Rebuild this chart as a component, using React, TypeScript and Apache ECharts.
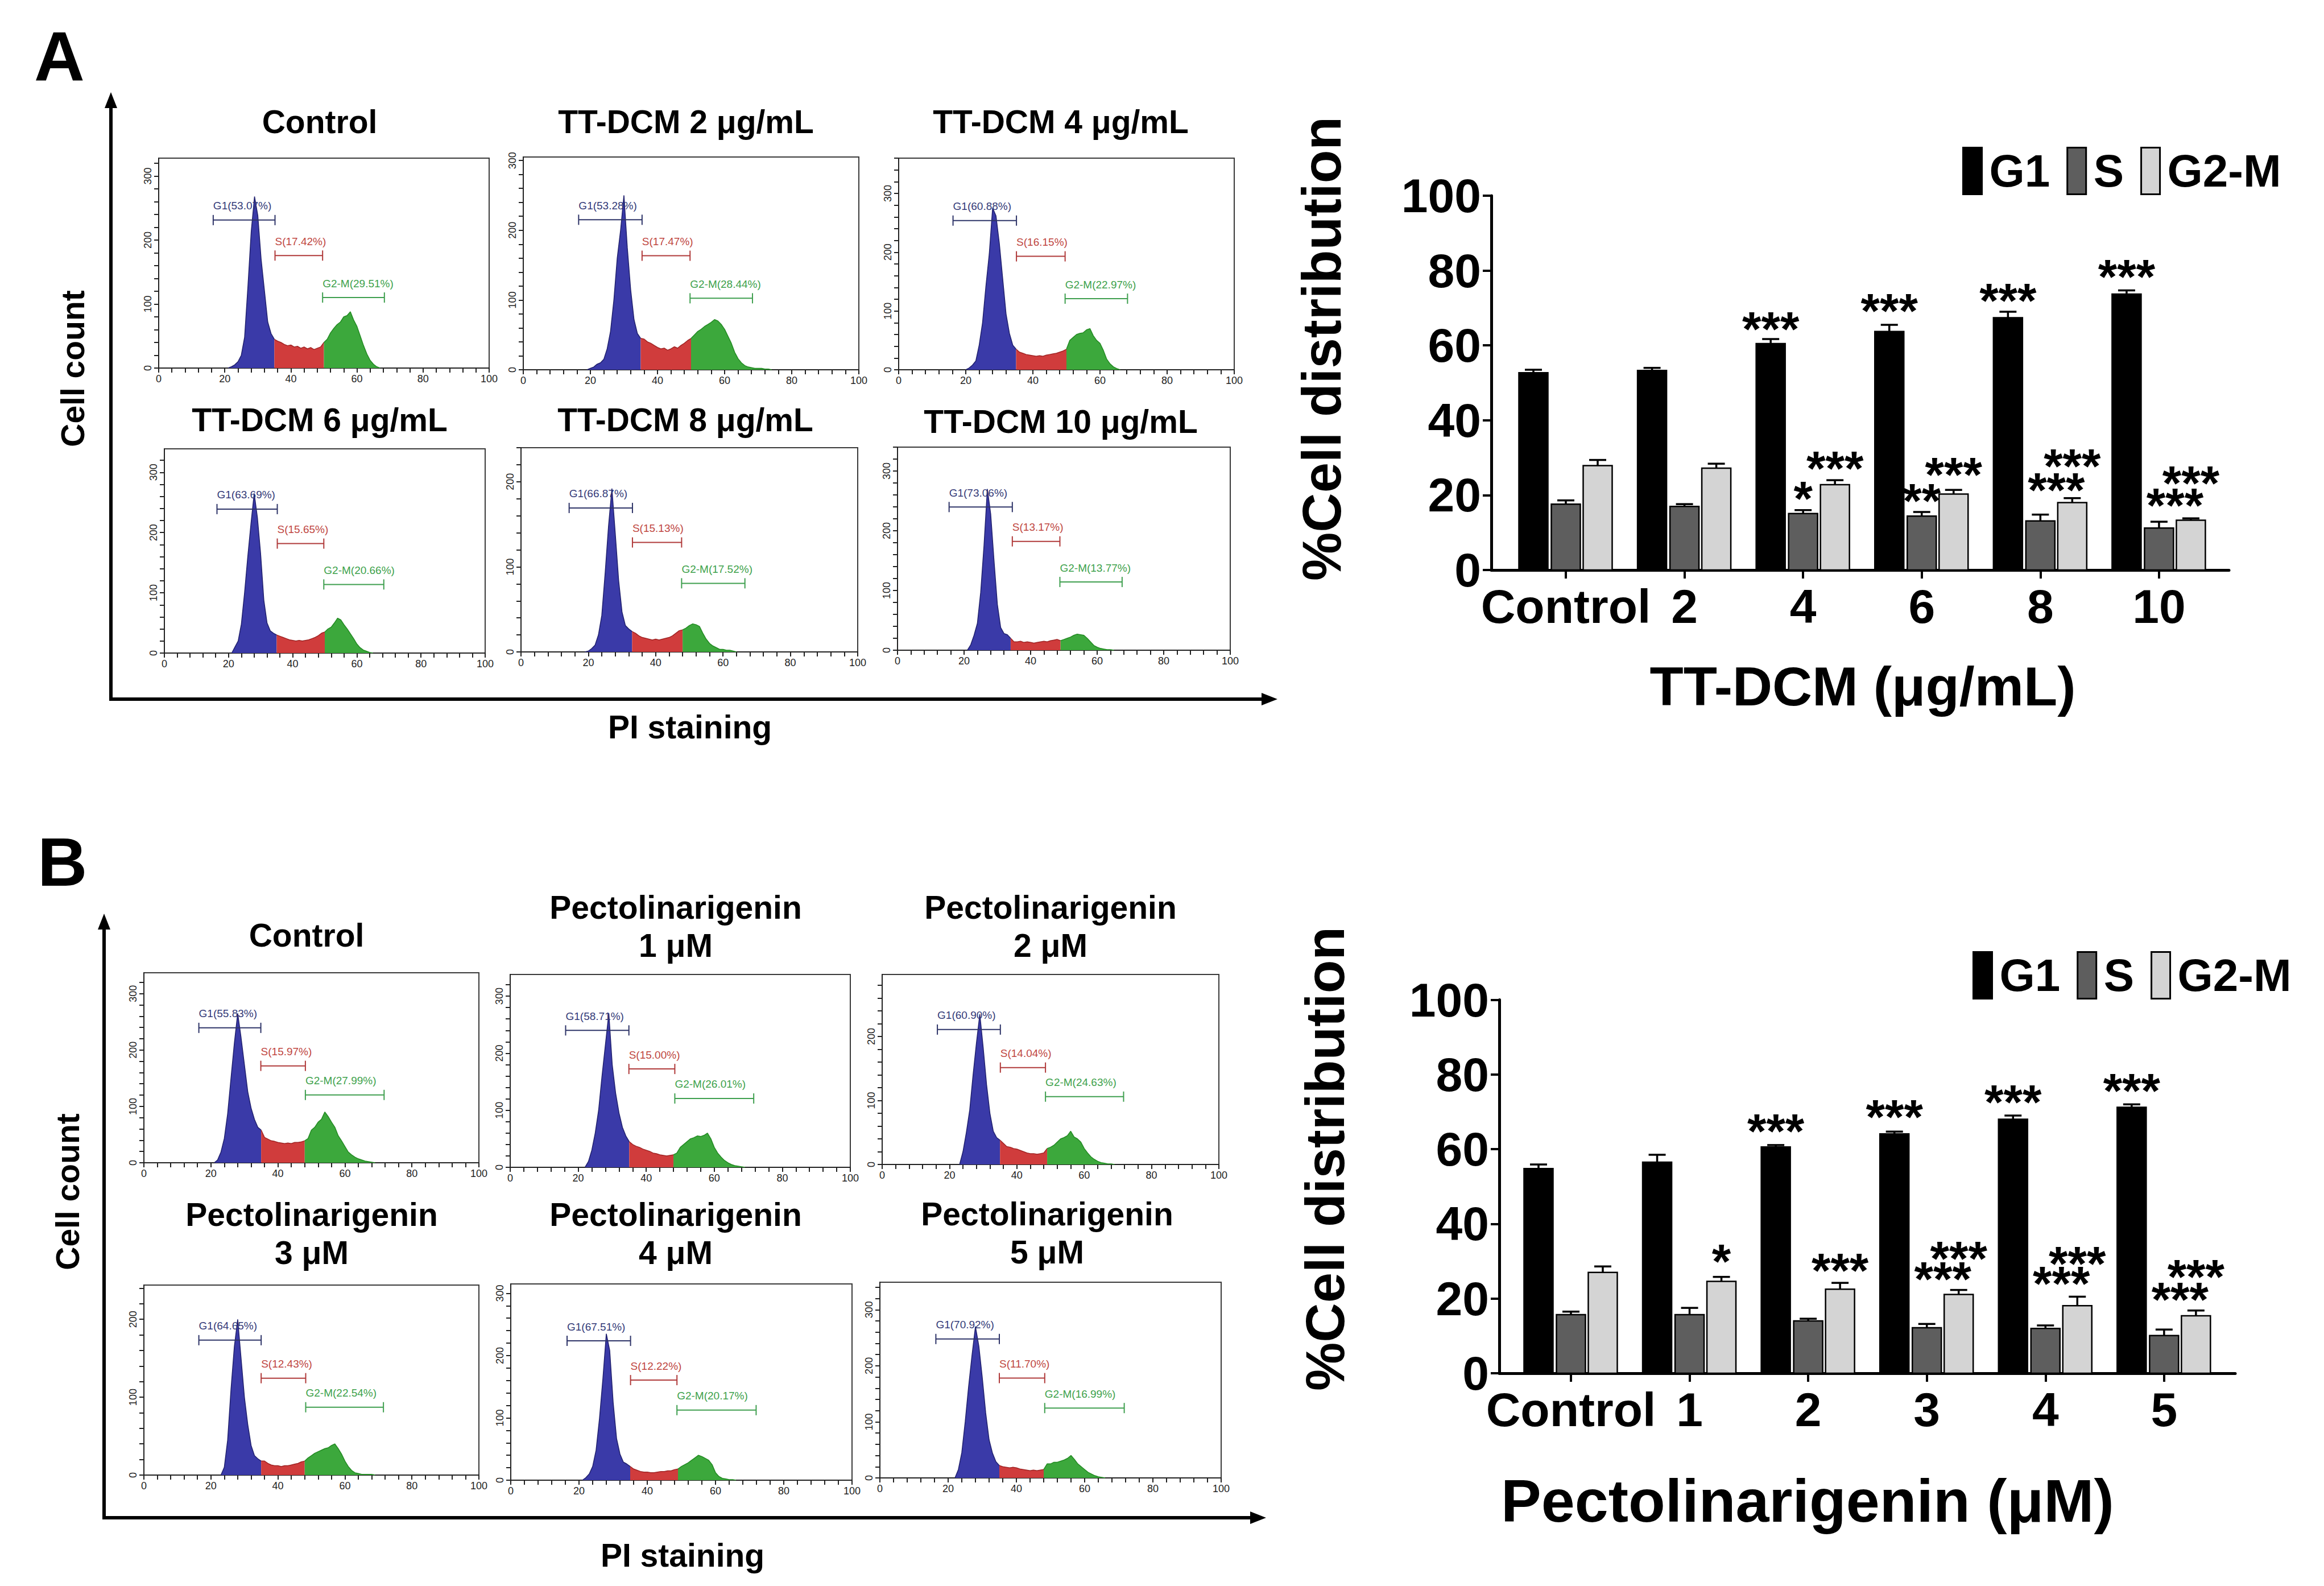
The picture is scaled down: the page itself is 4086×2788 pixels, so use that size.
import React, { useEffect, useRef } from "react";
import * as echarts from "echarts";

const FONT = "'Liberation Sans', Arial, Helvetica, sans-serif";

// ---------------- Flow-cytometry histogram panels ----------------
const histTitles = [
  "Control", "TT-DCM 2 μg/mL", "TT-DCM 4 μg/mL",
  "TT-DCM 6 μg/mL", "TT-DCM 8 μg/mL", "TT-DCM 10 μg/mL",
  "Control", "Pectolinarigenin\n1 μM", "Pectolinarigenin\n2 μM",
  "Pectolinarigenin\n3 μM", "Pectolinarigenin\n4 μM", "Pectolinarigenin\n5 μM",
];
const histYMax = [328, 305, 360, 339, 240, 340, 337, 338, 297, 244, 315, 349];
const histStart = [21, 19, 20, 21, 19, 21, 21, 22, 23, 23, 21, 22];
const histSStart = [35, 35, 35, 35, 33, 34, 35, 35, 35, 35, 35, 35];
const histG2Start = [50, 50, 50, 50, 48, 49, 48, 48, 49, 48, 49, 48];

const countsCtrlA = [0, 2, 5, 10, 20, 48, 127, 213, 268, 238, 170, 121, 72, 54, 45, 42, 40, 37, 35, 36, 33, 34, 31, 33, 30, 32, 29, 31, 33, 40, 45, 55, 62, 68, 72, 80, 82, 88, 75, 65, 50, 35, 22, 12, 6, 2, 0];
const countsTT2 = [0, 2, 4, 8, 10, 15, 30, 55, 100, 160, 200, 250, 175, 115, 72, 52, 45, 44, 40, 38, 35, 32, 30, 31, 28, 30, 33, 31, 35, 38, 42, 45, 50, 55, 58, 62, 65, 68, 72, 70, 65, 58, 48, 38, 25, 16, 10, 6, 4, 3, 2, 2, 2, 1, 1, 0];
const countsTT4 = [0, 3, 8, 15, 42, 80, 142, 197, 275, 262, 215, 155, 95, 62, 42, 35, 30, 28, 26, 25, 24, 23, 24, 23, 25, 26, 27, 28, 30, 32, 35, 50, 55, 60, 62, 63, 68, 70, 58, 50, 45, 33, 18, 10, 5, 2, 0];
const countsTT6 = [0, 10, 20, 48, 100, 160, 215, 265, 225, 165, 88, 50, 37, 33, 30, 28, 26, 24, 22, 21, 20, 21, 20, 21, 22, 24, 26, 29, 33, 35, 40, 43, 50, 58, 55, 47, 40, 32, 24, 15, 9, 5, 3, 1, 0];
const countsTT8 = [0, 1, 4, 8, 20, 43, 93, 148, 192, 139, 84, 47, 31, 27, 24, 22, 19, 17, 16, 15, 14, 15, 14, 15, 16, 17, 19, 22, 25, 26, 28, 31, 33, 32, 30, 22, 15, 10, 7, 5, 3, 3, 2, 2, 1, 0];
const countsTT10 = [0, 9, 25, 45, 97, 176, 270, 228, 150, 77, 38, 28, 26, 20, 14, 14, 15, 13, 14, 13, 12, 13, 14, 15, 14, 16, 17, 18, 16, 18, 20, 22, 25, 27, 26, 25, 20, 14, 8, 5, 3, 2, 1, 1, 0];
const countsCtrlB = [0, 5, 19, 43, 87, 150, 212, 265, 222, 174, 126, 97, 77, 63, 58, 45, 42, 39, 38, 36, 35, 34, 35, 34, 36, 36, 37, 39, 43, 58, 63, 72, 77, 90, 82, 72, 63, 48, 39, 29, 19, 14, 10, 7, 5, 3, 2, 1, 0];
const countsP1 = [0, 10, 30, 60, 100, 160, 215, 270, 180, 130, 95, 70, 55, 45, 40, 37, 35, 32, 30, 28, 25, 24, 22, 21, 20, 21, 22, 25, 35, 40, 45, 50, 52, 55, 54, 56, 60, 50, 35, 25, 18, 12, 8, 5, 3, 2, 1, 0];
const countsP2 = [0, 20, 50, 85, 140, 190, 235, 183, 125, 80, 52, 42, 38, 33, 28, 27, 25, 24, 22, 20, 18, 17, 17, 16, 17, 18, 25, 27, 30, 35, 40, 42, 45, 52, 43, 40, 35, 25, 18, 12, 8, 5, 3, 2, 1, 1, 0];
const countsP3 = [0, 10, 45, 110, 165, 200, 150, 100, 65, 38, 25, 21, 18, 18, 15, 13, 12, 12, 11, 12, 12, 13, 14, 15, 17, 18, 22, 25, 28, 30, 32, 34, 35, 38, 40, 34, 27, 18, 11, 6, 3, 2, 1, 1, 1, 1, 0];
const countsP4 = [0, 4, 10, 22, 48, 99, 163, 235, 208, 125, 67, 42, 29, 26, 22, 18, 16, 14, 13, 13, 12, 12, 13, 14, 14, 15, 15, 17, 18, 22, 25, 28, 32, 36, 40, 38, 35, 32, 25, 12, 6, 3, 2, 1, 1, 0];
const countsP5 = [0, 15, 45, 100, 163, 219, 270, 235, 179, 116, 68, 44, 29, 22, 20, 19, 18, 19, 18, 16, 15, 14, 13, 14, 13, 14, 15, 25, 25, 28, 28, 30, 32, 35, 40, 33, 25, 20, 15, 10, 7, 4, 2, 1, 0];
const histCounts = [countsCtrlA, countsTT2, countsTT4, countsTT6, countsTT8, countsTT10, countsCtrlB, countsP1, countsP2, countsP3, countsP4, countsP5];

// gate markers (x ranges on the 0-100 channel axis)
const gatesG1 = [[16.5, 35.2], [16.5, 35.4], [16.2, 35.1], [16.4, 35.2], [14.3, 33.1], [15.5, 34.5], [16.4, 34.9], [16.3, 34.9], [16.4, 35.1], [16.4, 35.0], [16.5, 35.1], [16.4, 35.0]];
const gatesS = [[35.2, 49.6], [35.4, 49.7], [35.1, 49.6], [35.2, 49.7], [33.1, 47.7], [34.5, 48.8], [34.9, 48.2], [34.9, 48.4], [35.1, 48.5], [35.0, 48.3], [35.1, 48.7], [35.0, 48.3]];
const gatesG2 = [[49.6, 68.3], [49.7, 68.3], [49.6, 68.2], [49.7, 68.4], [47.7, 66.5], [48.8, 67.5], [48.2, 71.7], [48.4, 71.6], [48.5, 71.7], [48.3, 71.5], [48.7, 71.9], [48.3, 71.6]];
const pctG1 = ["53.07", "53.28", "60.88", "63.69", "66.87", "73.06", "55.83", "58.71", "60.90", "64.65", "67.51", "70.92"];
const pctS = ["17.42", "17.47", "16.15", "15.65", "15.13", "13.17", "15.97", "15.00", "14.04", "12.43", "12.22", "11.70"];
const pctG2 = ["29.51", "28.44", "22.97", "20.66", "17.52", "13.77", "27.99", "26.01", "24.63", "22.54", "20.17", "16.99"];

const histXLabels = [0, 20, 40, 60, 80, 100];
const histYLabels = [0, 100, 200, 300];

// ---------------- Bar charts ----------------
const catsA = ["Control", "2", "4", "6", "8", "10"];
const aG1 = [52.7, 53.3, 60.5, 63.7, 67.4, 73.7];
const aG1Err = [0.8, 0.7, 1.2, 1.8, 1.6, 1.0];
const aS = [17.6, 17.0, 15.1, 14.4, 13.1, 11.2];
const aSErr = [1.0, 0.6, 0.9, 1.1, 1.7, 1.7];
const aG2 = [27.9, 27.2, 22.8, 20.3, 18.0, 13.3];
const aG2Err = [1.5, 1.2, 1.2, 1.1, 1.2, 0.5];
const aG1Stars = ["", "", "***", "***", "***", "***"];
const aSStars = ["", "", "*", "**", "***", "***"];
const aG2Stars = ["", "", "***", "***", "***", "***"];
const aG1StarY = [0, 0, 63.1, 68.0, 70.7, 77.1];
const aSStarY = [0, 0, 17.8, 17.2, 20.1, 16.0];
const aG2StarY = [0, 0, 25.9, 24.2, 26.5, 21.9];

const catsB = ["Control", "1", "2", "3", "4", "5"];
const bG1 = [54.8, 56.5, 60.6, 64.1, 68.0, 71.2];
const bG1Err = [1.1, 2.0, 0.5, 0.6, 1.0, 0.8];
const bS = [15.7, 15.7, 14.0, 12.2, 12.0, 10.1];
const bSErr = [0.8, 1.8, 0.6, 1.0, 0.8, 1.6];
const bG2 = [27.0, 24.6, 22.5, 21.1, 18.1, 15.4];
const bG2Err = [1.6, 1.2, 1.7, 1.2, 2.4, 1.4];
const bG1Stars = ["", "", "***", "***", "***", "***"];
const bSStars = ["", "", "", "***", "***", "***"];
const bG2Stars = ["", "*", "***", "***", "***", "***"];
const bG1StarY = [0, 0, 63.5, 67.4, 71.3, 74.4];
const bSStarY = [0, 0, 0, 23.9, 22.7, 18.4];
const bG2StarY = [0, 28.6, 26.2, 29.4, 28.0, 24.5];

const barYTicks = [0, 20, 40, 60, 80, 100];

// ---------------- layout ----------------
const histRects = [
  [279, 278, 581, 369], [920, 276, 590, 374], [1580, 278, 590, 372],
  [289, 789, 564, 359], [916, 787, 592, 359], [1578, 786, 585, 357],
  [253, 1710, 589, 334], [897, 1713, 598, 339], [1551, 1713, 592, 334],
  [253, 2259, 589, 334], [898, 2257, 600, 345], [1547, 2254, 600, 344],
];
const titlePos = [
  [562, 214], [1206, 214], [1865, 214], [562, 738], [1205, 738], [1865, 741],
  [539, 1644], [1188, 1628], [1847, 1628], [548, 2168], [1188, 2168], [1841, 2167],
];
const gateFracA = [0.295, 0.464, 0.664];
const gateFracB = [0.29, 0.49, 0.643];

const histFill = ["#3a3aa8", "#d03c3c", "#3ca83c"];
const histEdge = ["#20206e", "#a02424", "#228a22"];
const gateLine = ["#2e3468", "#b03a3a", "#3f9f4f"];
const gateText = ["#333a78", "#c0463f", "#3ea24c"];
const gateNames = ["G1", "S", "G2-M"];

const barFill = ["#000000", "#5e5e5e", "#d4d4d4"];

function buildOption() {
  const grid: any[] = [];
  const xAxis: any[] = [];
  const yAxis: any[] = [];
  const series: any[] = [];
  const axisCol = "#222";

  const xTickVals: number[] = [];
  for (let v = 0; v <= 100; v += 4) xTickVals.push(v);

  histRects.forEach((r, i) => {
    const ymax = histYMax[i];
    const yTickVals: number[] = [];
    for (let v = 0; v <= ymax; v += 20) yTickVals.push(v);
    grid.push({ left: r[0], top: r[1], width: r[2], height: r[3], show: true, borderColor: "#3a3a3a", borderWidth: 2, backgroundColor: "#fff" });
    xAxis.push({
      gridIndex: i, type: "value", min: 0, max: 100,
      axisLine: { show: true, onZero: false, lineStyle: { color: axisCol, width: 2 } },
      axisTick: { show: true, customValues: xTickVals, length: 8, lineStyle: { color: axisCol, width: 2 } },
      axisLabel: { customValues: histXLabels, fontSize: 18, color: axisCol, margin: 10, fontFamily: FONT },
      splitLine: { show: false },
    });
    yAxis.push({
      gridIndex: i, type: "value", min: 0, max: ymax,
      axisLine: { show: true, onZero: false, lineStyle: { color: axisCol, width: 2 } },
      axisTick: { show: true, customValues: yTickVals, length: 8, lineStyle: { color: axisCol, width: 2 } },
      axisLabel: { customValues: histYLabels.filter((v) => v <= ymax), rotate: 90, fontSize: 18, color: axisCol, margin: 10, fontFamily: FONT },
      splitLine: { show: false },
    });

    const counts = histCounts[i];
    const start = histStart[i];
    const end = start + counts.length - 1;
    const ranges = [[start, histSStart[i]], [histSStart[i], histG2Start[i]], [histG2Start[i], end]];
    ranges.forEach((rg, k) => {
      const data = counts.map((c, j) => [start + j, c]).filter((p) => p[0] >= rg[0] && p[0] <= rg[1]);
      series.push({
        type: "line", name: `hist${i}-${gateNames[k]}`, xAxisIndex: i, yAxisIndex: i,
        data, symbol: "none", silent: true, z: 2,
        lineStyle: { color: histEdge[k], width: 1.5 },
        areaStyle: { color: histFill[k], opacity: 1 },
      });
    });

    const frac = i < 6 ? gateFracA : gateFracB;
    const gates = [gatesG1[i], gatesS[i], gatesG2[i]];
    const labels = [`G1(${pctG1[i]}%)`, `S(${pctS[i]}%)`, `G2-M(${pctG2[i]}%)`];
    series.push({
      type: "custom", name: `gates${i}`, xAxisIndex: i, yAxisIndex: i, clip: false, silent: true, z: 5,
      data: gates.map((g, k) => [g[0], g[1], ymax * (1 - frac[k]), k]),
      encode: { x: [0, 1], y: 2 },
      renderItem: (params: any, api: any) => {
        const k = api.value(3);
        const p1 = api.coord([api.value(0), api.value(2)]);
        const p2 = api.coord([api.value(1), api.value(2)]);
        const col = gateLine[k];
        return {
          type: "group",
          children: [
            { type: "line", shape: { x1: p1[0], y1: p1[1], x2: p2[0], y2: p1[1] }, style: { stroke: col, lineWidth: 2 } },
            { type: "line", shape: { x1: p1[0], y1: p1[1] - 9, x2: p1[0], y2: p1[1] + 9 }, style: { stroke: col, lineWidth: 2 } },
            { type: "line", shape: { x1: p2[0], y1: p1[1] - 9, x2: p2[0], y2: p1[1] + 9 }, style: { stroke: col, lineWidth: 2 } },
            { type: "text", x: p1[0], y: p1[1] - 25, style: { text: labels[k], fill: gateText[k], font: `19px ${FONT}`, align: "left", verticalAlign: "middle" } },
          ],
        };
      },
    });
  });

  // ---- bar charts ----
  const barGrids = [
    { left: 2622, top: 344, width: 1297, height: 658, min: -0.628, max: 5.59, cats: catsA },
    { left: 2636, top: 1757.5, width: 1294, height: 656.5, min: -0.604, max: 5.6, cats: catsB },
  ];
  barGrids.forEach((g, n) => {
    const gi = 12 + n;
    grid.push({ left: g.left, top: g.top, width: g.width, height: g.height, show: false });
    xAxis.push({
      gridIndex: gi, type: "value", min: g.min, max: g.max,
      axisLine: { show: true, onZero: false, lineStyle: { color: "#000", width: 5 } },
      axisTick: { show: true, customValues: [0, 1, 2, 3, 4, 5], length: 15, lineStyle: { color: "#000", width: 4 } },
      axisLabel: {
        customValues: [0, 1, 2, 3, 4, 5], formatter: (v: number) => g.cats[Math.round(v)],
        fontSize: 84, fontWeight: "bold", color: "#000", margin: 22, fontFamily: FONT,
      },
      splitLine: { show: false },
    });
    yAxis.push({
      gridIndex: gi, type: "value", min: 0, max: 100, interval: 20,
      axisLine: { show: true, onZero: false, lineStyle: { color: "#000", width: 5 } },
      axisTick: { show: true, customValues: barYTicks, length: 15, lineStyle: { color: "#000", width: 4 } },
      axisLabel: { customValues: barYTicks, fontSize: 84, fontWeight: "bold", color: "#000", margin: 18, fontFamily: FONT },
      splitLine: { show: false },
    });
  });

  const makeBars = (name: string, gi: number, vals: number[], errs: number[], stars: string[], starY: number[], off: number, fill: string, starDx: number) => ({
    type: "custom", name, xAxisIndex: gi, yAxisIndex: gi, clip: false, z: 3,
    itemStyle: { color: fill, borderColor: "#000", borderWidth: 3 },
    data: vals.map((v, j) => [j, v, errs[j]]),
    encode: { x: 0, y: 1 },
    renderItem: (params: any, api: any) => {
      const j = params.dataIndex;
      const x = api.value(0), v = api.value(1), e = api.value(2);
      const p0 = api.coord([x, 0]);
      const p1 = api.coord([x, v]);
      const p2 = api.coord([x, v + e]);
      const cx = p0[0] + off;
      const children: any[] = [
        { type: "rect", shape: { x: cx - 25.5, y: p1[1], width: 51, height: p0[1] - p1[1] }, style: { fill, stroke: "#000", lineWidth: 2.5 } },
        { type: "line", shape: { x1: cx, y1: p1[1], x2: cx, y2: p2[1] }, style: { stroke: "#000", lineWidth: 3.5 } },
        { type: "line", shape: { x1: cx - 15, y1: p2[1], x2: cx + 15, y2: p2[1] }, style: { stroke: "#000", lineWidth: 3.5 } },
      ];
      if (stars[j]) {
        const ps = api.coord([x, starY[j]]);
        children.push({
          type: "text", x: cx + (stars[j].length === 3 ? starDx : 0), y: ps[1] - 9,
          style: { text: stars[j], fill: "#000", font: `bold 86px ${FONT}`, align: "center", verticalAlign: "middle" },
        });
      }
      return { type: "group", children };
    },
  });

  series.push(makeBars("G1", 12, aG1, aG1Err, aG1Stars, aG1StarY, -57, barFill[0], 0));
  series.push(makeBars("S", 12, aS, aSErr, aSStars, aSStarY, 0, barFill[1], 28));
  series.push(makeBars("G2-M", 12, aG2, aG2Err, aG2Stars, aG2StarY, 56, barFill[2], 0));
  series.push(makeBars("G1", 13, bG1, bG1Err, bG1Stars, bG1StarY, -57, barFill[0], 0));
  series.push(makeBars("S", 13, bS, bSErr, bSStars, bSStarY, 0, barFill[1], 28));
  series.push(makeBars("G2-M", 13, bG2, bG2Err, bG2Stars, bG2StarY, 56, barFill[2], 0));

  const legendData = [
    { name: "G1", itemStyle: { color: barFill[0], borderColor: "#000", borderWidth: 3 } },
    { name: "S", itemStyle: { color: barFill[1], borderColor: "#000", borderWidth: 3 } },
    { name: "G2-M", itemStyle: { color: barFill[2], borderColor: "#000", borderWidth: 3 } },
  ];
  const legendBase = {
    orient: "horizontal", padding: 0, itemWidth: 33, itemHeight: 82, itemGap: 29, icon: "rect", selectedMode: false,
    textStyle: { fontSize: 80, fontWeight: "bold", color: "#000", fontFamily: FONT, padding: [0, 0, 0, 8] },
    data: legendData,
  };
  const legend = [
    { ...legendBase, left: 3450, top: 258 },
    { ...legendBase, left: 3468, top: 1672 },
  ];

  // ---- graphic: titles, arrows, axis names ----
  const txt = (text: string, x: number, y: number, size: number, rot = 0, lh?: number) => ({
    type: "text", x, y, rotation: rot, silent: true,
    style: {
      text, fill: "#000", font: `bold ${size}px ${FONT}`, align: "center", verticalAlign: "middle",
      textAlign: "center", textVerticalAlign: "middle", lineHeight: lh || Math.round(size * 1.17),
    },
  });
  const graphics: any[] = [];
  histTitles.forEach((t, i) => graphics.push(txt(t, titlePos[i][0], titlePos[i][1], 57, 0, 67)));
  graphics.push({ type: "text", x: 60, y: 99, silent: true, style: { text: "A", fill: "#000", font: `bold 123px ${FONT}`, align: "left", verticalAlign: "middle" } });
  graphics.push({ type: "text", x: 66, y: 1515, silent: true, style: { text: "B", fill: "#000", font: `bold 121px ${FONT}`, align: "left", verticalAlign: "middle" } });

  const arrowStyle = { stroke: "#000", lineWidth: 6 };
  const addArrows = (ox: number, oy: number, topY: number, rightX: number) => {
    graphics.push({ type: "line", silent: true, shape: { x1: ox, y1: oy, x2: ox, y2: topY + 22 }, style: arrowStyle });
    graphics.push({ type: "polygon", silent: true, shape: { points: [[ox, topY], [ox - 11, topY + 28], [ox + 11, topY + 28]] }, style: { fill: "#000" } });
    graphics.push({ type: "line", silent: true, shape: { x1: ox - 3, y1: oy, x2: rightX - 22, y2: oy }, style: arrowStyle });
    graphics.push({ type: "polygon", silent: true, shape: { points: [[rightX, oy], [rightX - 28, oy - 11], [rightX - 28, oy + 11]] }, style: { fill: "#000" } });
  };
  addArrows(195, 1229, 162, 2246);
  addArrows(183, 2668, 1606, 2226);
  graphics.push(txt("Cell count", 128, 648, 57, Math.PI / 2));
  graphics.push(txt("Cell count", 119, 2095, 57, Math.PI / 2));
  graphics.push(txt("PI staining", 1213, 1278, 57));
  graphics.push(txt("PI staining", 1200, 2734, 57));

  graphics.push(txt("%Cell distribution", 2323, 613, 96, Math.PI / 2));
  graphics.push(txt("%Cell distribution", 2329, 2037, 96, Math.PI / 2));
  graphics.push(txt("TT-DCM (μg/mL)", 3275, 1206, 97));
  graphics.push(txt("Pectolinarigenin (μM)", 3178, 2638, 106));

  return {
    animation: false,
    backgroundColor: "#ffffff",
    textStyle: { fontFamily: FONT },
    grid, xAxis, yAxis, series, legend,
    graphic: { elements: graphics },
  };
}

export default function App() {
  const ref = useRef<HTMLDivElement>(null);
  useEffect(() => {
    if (!ref.current) return;
    const chart = echarts.init(ref.current, undefined, { renderer: "svg" });
    chart.setOption(buildOption() as any);
    return () => chart.dispose();
  }, []);
  return (
    <div
      ref={ref}
      style={{ position: "fixed", left: 0, top: 0, width: 4086, height: 2788, background: "#fff" }}
    />
  );
}
